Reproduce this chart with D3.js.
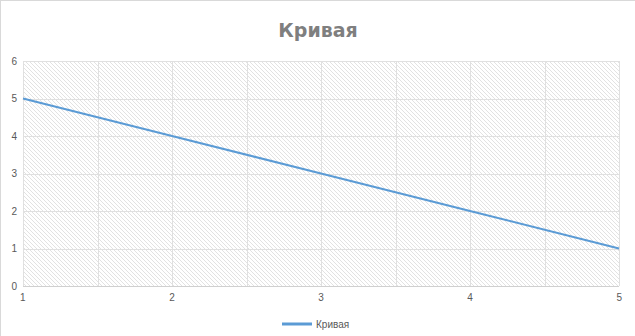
<!DOCTYPE html>
<html>
<head>
<meta charset="utf-8">
<script src="https://cdn.jsdelivr.net/npm/d3@7"></script>
<style>
  body { margin: 0; background: #fff; }
  svg text { font-family: "Liberation Sans", Arial, sans-serif; }
</style>
</head>
<body>
<div id="chart"></div>
<script>
// Chart data
const xValues = [1, 2, 3, 4, 5];
const yValues = [5, 4, 3, 2, 1];
const seriesName = "Кривая";
const chartTitle = "Кривая";
const xTicks = [1, 2, 3, 4, 5];
const yTicks = [0, 1, 2, 3, 4, 5, 6];

const width = 635, height = 336;
const margin = { top: 61, right: 16, bottom: 50, left: 23 };

const svg = d3.select('#chart').append('svg')
    .attr('width', width)
    .attr('height', height);

// hatch pattern for plot area
const defs = svg.append('defs');
const pat = defs.append('pattern')
    .attr('id', 'hatch')
    .attr('patternUnits', 'userSpaceOnUse')
    .attr('width', 4).attr('height', 4);
pat.append('path')
    .attr('d', 'M-1,-1 L5,5 M-1,3 L1,5 M3,-1 L5,1')
    .attr('stroke', '#dadada')
    .attr('stroke-width', 0.8);

// chart area border (left/top)
svg.append('rect')
    .attr('x', 0.5).attr('y', 0.5)
    .attr('width', width).attr('height', height)
    .attr('fill', 'none')
    .attr('stroke', '#d9d9d9');

const x = d3.scaleLinear().domain([1, 5]).range([margin.left, width - margin.right]);
const y = d3.scaleLinear().domain([0, 6]).range([height - margin.bottom, margin.top]);

svg.append('rect')
    .attr('x', x(1)).attr('y', y(6))
    .attr('width', x(5) - x(1)).attr('height', y(0) - y(6))
    .attr('fill', 'url(#hatch)');

// gridlines
svg.append('g').selectAll('line')
    .data(d3.range(1, 5.01, 0.5))
    .enter().append('line')
    .attr('x1', d => Math.round(x(d)) + 0.5).attr('x2', d => Math.round(x(d)) + 0.5)
    .attr('y1', y(0)).attr('y2', y(6))
    .attr('stroke', '#e0e0e0');

svg.append('g').selectAll('line')
    .data(yTicks)
    .enter().append('line')
    .attr('x1', x(1)).attr('x2', x(5))
    .attr('y1', d => Math.round(y(d)) + 0.5).attr('y2', d => Math.round(y(d)) + 0.5)
    .attr('stroke', '#e0e0e0');

// x axis baseline
svg.append('line')
    .attr('x1', x(1)).attr('x2', x(5))
    .attr('y1', Math.round(y(0)) + 0.5).attr('y2', Math.round(y(0)) + 0.5)
    .attr('stroke', '#d0d0d0');

// axis labels
svg.append('g').selectAll('text')
    .data(yTicks)
    .enter().append('text')
    .attr('x', x(1) - 6)
    .attr('y', d => y(d) + 3.5)
    .attr('text-anchor', 'end')
    .attr('font-size', 10)
    .attr('fill', '#595959')
    .text(d => d);

svg.append('g').selectAll('text')
    .data(xTicks)
    .enter().append('text')
    .attr('x', d => x(d))
    .attr('y', y(0) + 15)
    .attr('text-anchor', d => d === 1 ? 'start' : (d === 5 ? 'end' : 'middle'))
    .attr('dx', d => d === 1 ? -3 : (d === 5 ? 3 : 0))
    .attr('font-size', 10)
    .attr('fill', '#595959')
    .text(d => d);

// the line
const data = xValues.map((v, i) => ({ x: v, y: yValues[i] }));
svg.append('path')
    .datum(data)
    .attr('fill', 'none')
    .attr('stroke', '#5b9bd5')
    .attr('stroke-width', 2)
    .attr('d', d3.line().x(d => x(d.x)).y(d => y(d.y)));

// title
svg.append('text')
    .attr('x', 318).attr('y', 37)
    .attr('text-anchor', 'middle')
    .attr('font-size', 19)
    .attr('font-weight', 'bold')
    .style('font-family', '"DejaVu Sans", sans-serif')
    .attr('fill', '#7f7f7f')
    .text(chartTitle);

// legend
const lg = svg.append('g').attr('transform', 'translate(282,324)');
lg.append('line')
    .attr('x1', 0).attr('x2', 30).attr('y1', 0).attr('y2', 0)
    .attr('stroke', '#5b9bd5').attr('stroke-width', 3);
lg.append('text')
    .attr('x', 34).attr('y', 4)
    .attr('font-size', 10)
    .attr('fill', '#595959')
    .text(seriesName);
</script>
</body>
</html>
